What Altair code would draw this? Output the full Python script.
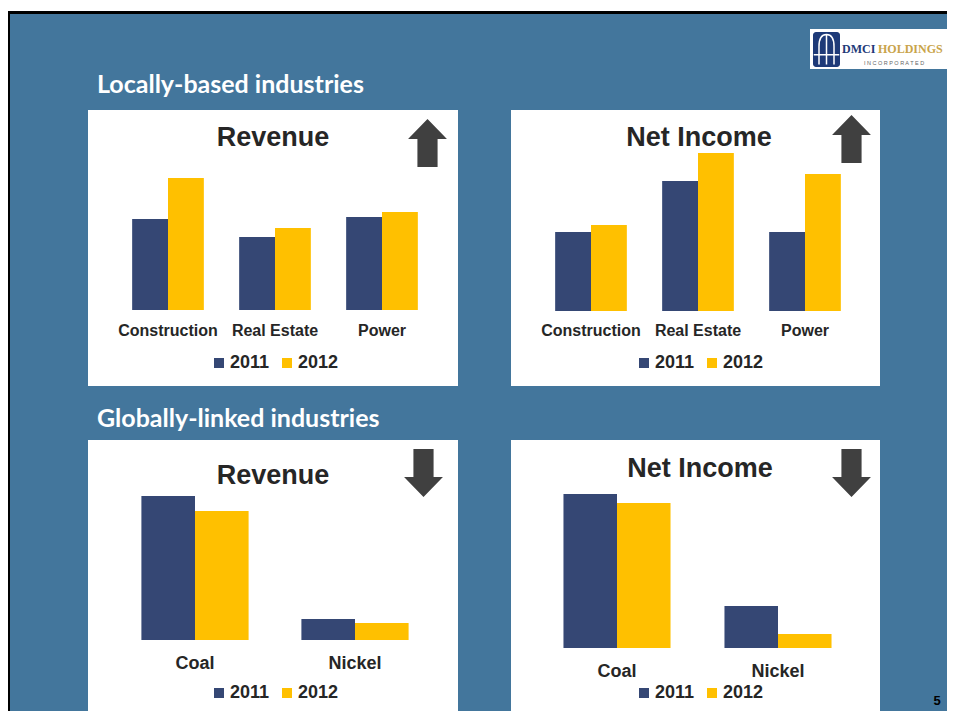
import altair as alt
import pandas as pd

# ---------------- data ----------------
years = ["2011", "2012"]
local_categories = ["Construction", "Real Estate", "Power"]
local_revenue_2011 = [91, 73, 93]
local_revenue_2012 = [132, 82, 98]
local_netincome_2011 = [79, 130, 79]
local_netincome_2012 = [86, 158, 137]

global_categories = ["Coal", "Nickel"]
global_revenue_2011 = [144, 21]
global_revenue_2012 = [129, 17]
global_netincome_2011 = [154, 42]
global_netincome_2012 = [145, 14]

section_titles = ["Locally-based industries", "Globally-linked industries"]
panel_titles = ["Revenue", "Net Income", "Revenue", "Net Income"]

# ---------------- style ----------------
W, H = 939, 703
BG = "#43769c"
NAVY = "#354774"
GOLD = "#FFC000"
DARK = "#262626"
ARROW = "#404040"
SANS = "Liberation Sans"

one = pd.DataFrame({"a": [0]})


def deco_rect(x, x2, y, y2, color, **kw):
    return alt.Chart(one).mark_rect(color=color, **kw).encode(
        x=alt.value(x), x2=alt.value(x2), y=alt.value(y), y2=alt.value(y2))


def deco_text(txt, x, y, size, color, weight="bold", align="left", font=SANS):
    return alt.Chart(pd.DataFrame({"t": [txt]})).mark_text(
        font=font, fontSize=size, fontWeight=weight, color=color,
        align=align, baseline="alphabetic").encode(
        x=alt.value(x), y=alt.value(y), text="t:N")


def panel(cats, v11, v12, x_range, pad_inner, base_y, label_y, label_size, leg_x, leg_y):
    n = len(cats)
    df = pd.DataFrame({"cat": cats * 2, "year": [years[0]] * n + [years[1]] * n,
                       "value": v11 + v12})
    xenc = alt.X("cat:N", sort=cats, axis=None,
                 scale=alt.Scale(range=x_range, paddingInner=pad_inner,
                                 paddingOuter=pad_inner / 2))
    bars = alt.Chart(df).mark_bar().encode(
        x=xenc,
        xOffset=alt.XOffset("year:N", sort=years,
                            scale=alt.Scale(paddingInner=0, paddingOuter=0)),
        y=alt.Y("value:Q", axis=None,
                scale=alt.Scale(domain=[0, 200], range=[base_y, base_y - 200], nice=False)),
        color=alt.Color("year:N", sort=years,
                        scale=alt.Scale(domain=years, range=[NAVY, GOLD]),
                        legend=alt.Legend(orient="none", legendX=leg_x, legendY=leg_y,
                                          direction="horizontal", title=None,
                                          symbolType="square", symbolSize=100,
                                          symbolStrokeWidth=0, labelFont=SANS,
                                          labelFontSize=18, labelFontWeight="bold",
                                          labelColor=DARK, labelOffset=2,
                                          columnPadding=8, padding=0)),
    )
    labels = alt.Chart(pd.DataFrame({"cat": cats})).mark_text(
        font=SANS, fontSize=label_size, fontWeight="bold", color=DARK,
        baseline="alphabetic").encode(x=xenc, y=alt.value(label_y), text="cat:N")
    return alt.layer(bars, labels)


UP = "M0,-1 L0.81,-0.17 L0.42,-0.17 L0.42,1 L-0.42,1 L-0.42,-0.17 L-0.81,-0.17 Z"
DOWN = "M0,1 L0.81,0.17 L0.42,0.17 L0.42,-1 L-0.42,-1 L-0.42,0.17 L-0.81,0.17 Z"


def arrow(path, x, y):
    return alt.Chart(one).mark_point(shape=path, filled=True, size=2304, color=ARROW,
                                     opacity=1, strokeWidth=0).encode(
        x=alt.value(x), y=alt.value(y))


layers = [
    deco_rect(0, W, 3, H, BG),
    deco_rect(0, W, 3, 6, "#000000"),
    deco_rect(0, 2, 3, H, "#000000"),
    # panels
    deco_rect(80, 450, 102, 378, "white"),
    deco_rect(503, 872, 102, 378, "white"),
    deco_rect(80, 450, 432, 708, "white"),
    deco_rect(503, 872, 432, 708, "white"),
    # section headings
    deco_text(section_titles[0], 89, 85, 25, "white", font="Lato"),
    deco_text(section_titles[1], 89, 419, 25, "white", font="Lato"),
    # panel titles
    deco_text(panel_titles[0], 265, 138, 27, DARK, align="center"),
    deco_text(panel_titles[1], 691, 138, 27, DARK, align="center"),
    deco_text(panel_titles[2], 265, 476, 27, DARK, align="center"),
    deco_text(panel_titles[3], 692, 469, 27, DARK, align="center"),
    # arrows
    arrow(UP, 419.5, 135),
    arrow(UP, 843.5, 131),
    arrow(DOWN, 415.5, 465),
    arrow(DOWN, 843.5, 465),
    # logo
    deco_rect(802, 939, 21, 61, "white"),
    deco_rect(805, 832, 24, 59, "#1e3a78", cornerRadius=3),
    alt.Chart(one).mark_point(
        shape="M-0.5,1 L-0.5,-0.2 Q-0.5,-1 0,-1 Q0.5,-1 0.5,-0.2 L0.5,1 M0,-0.95 L0,1 M-0.85,0.35 L0.85,0.35",
        size=900, color="white", strokeWidth=1.5, opacity=1).encode(
        x=alt.value(818.5), y=alt.value(41.5)),
    deco_text("DMCI", 834, 45, 12, "#1e3a78", font="Liberation Serif"),
    deco_text("HOLDINGS", 870, 45, 12, "#c9a44a", font="Liberation Serif"),
    deco_text("I   N   C   O   R   P   O   R   A   T   E   D", 886, 57, 5.5, "#666666",
              weight="normal", align="center"),
    # page number
    deco_text("5", 929, 697, 13, "#000000", align="center"),
    # charts
    panel(local_categories, local_revenue_2011, local_revenue_2012,
          [106.5, 427.5], 0.33, 302, 328, 16, 202, 346),
    panel(local_categories, local_netincome_2011, local_netincome_2012,
          [529.5, 850.5], 0.33, 303, 328, 16, 627, 346),
    panel(global_categories, global_revenue_2011, global_revenue_2012,
          [107, 427], 0.33, 632, 661, 18, 202, 676),
    panel(global_categories, global_netincome_2011, global_netincome_2012,
          [528.5, 850.5], 0.335, 640, 669, 18, 627, 676),
]

chart = alt.layer(*layers).resolve_scale(
    x="independent", y="independent", xOffset="independent", color="independent"
).resolve_legend(color="independent").properties(
    width=W, height=H, padding=0, autosize=alt.AutoSizeParams(type="none"),
    background="white"
).configure_view(stroke=None)

chart.save("out.html", embed_options={"renderer": "svg", "actions": False})
